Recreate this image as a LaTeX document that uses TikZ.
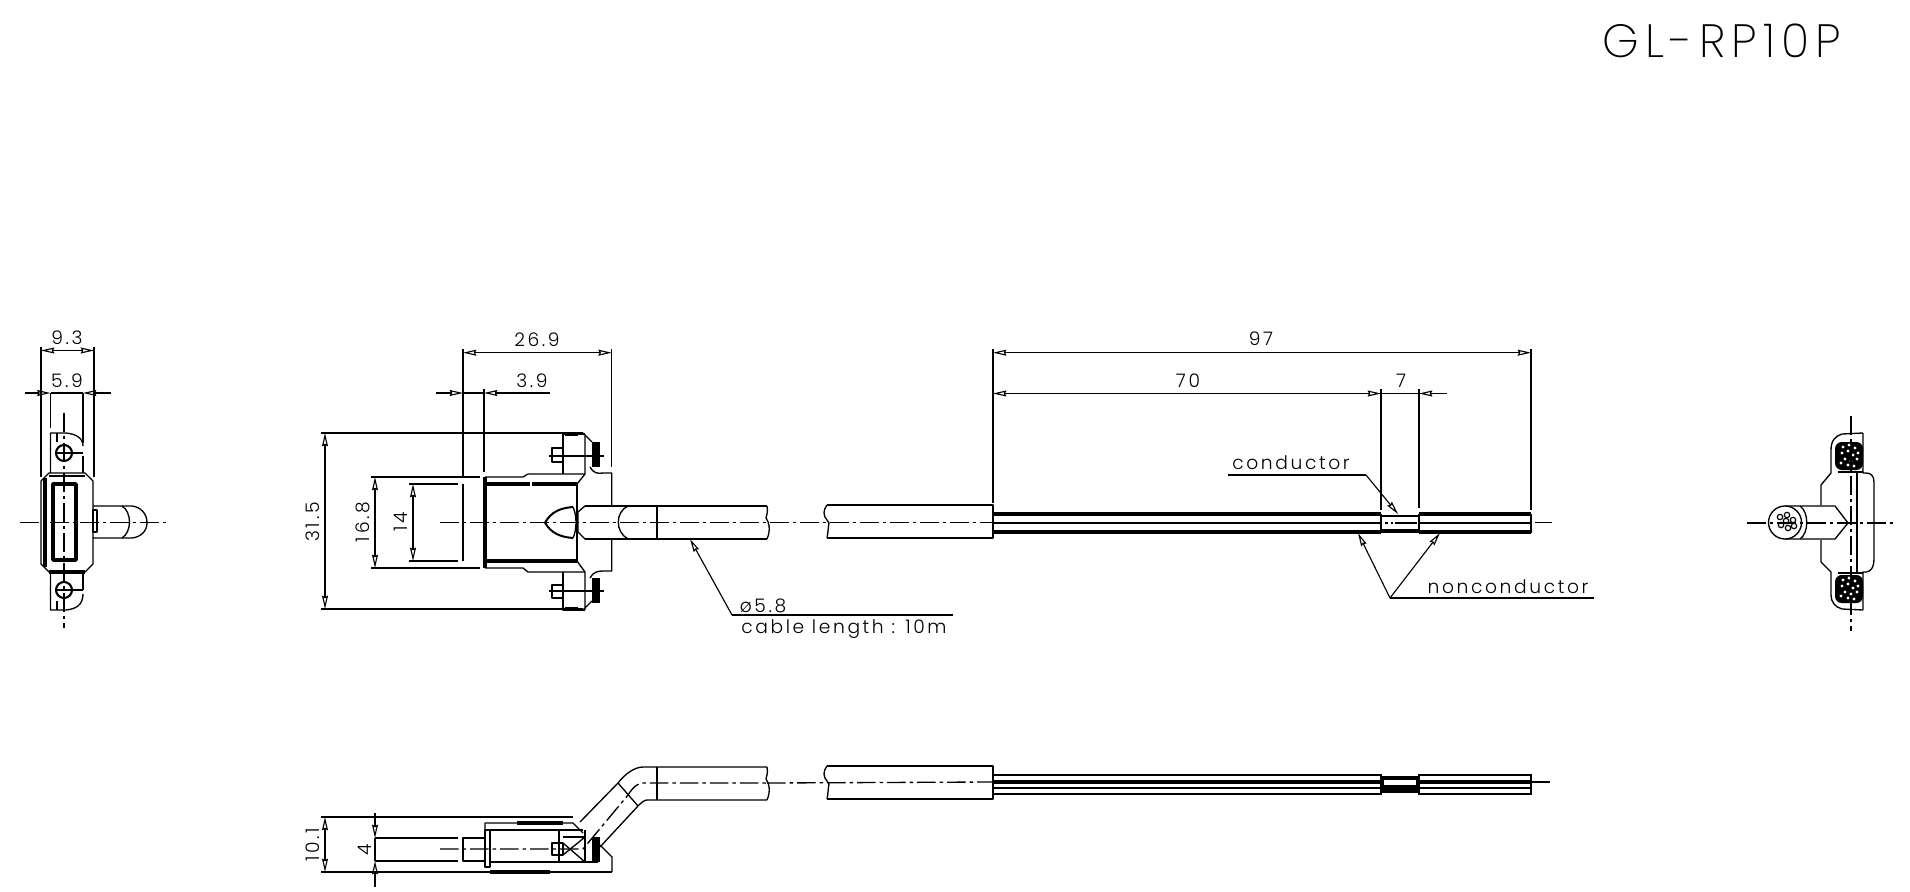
\documentclass[tikz,border=0pt]{standalone}
\usepackage{fontspec}
\usepackage{tikz}
\usetikzlibrary{arrows.meta}
\newfontfamily\cadfont[LetterSpace=14]{Poppins Light}
\newfontfamily\titlefont[LetterSpace=13]{Poppins ExtraLight}
\tikzset{
  >={Stealth[open,length=10pt,width=4.5pt,inset=1pt]},
  part/.style={line width=1pt,line join=round},
  fat/.style={line width=2.6pt},
  thin/.style={line width=0.9pt},
  centre/.style={line width=1pt,dash pattern=on 14pt off 3pt on 2.5pt off 3pt},
  dimline/.style={line width=0.85pt},
  dimarr/.style={dimline,<->},
  leadarr/.style={dimline,<-},
  label/.style={font=\cadfont\fontsize{14pt}{14pt}\selectfont,inner sep=0pt},
}
\begin{document}
\begin{tikzpicture}[x=0.75pt,y=-0.75pt]
\useasboundingbox (0,0) rectangle (1910,892);
\node [inner sep=0pt,font=\titlefont\fontsize{35pt}{35pt}\selectfont] (title) at (1722,41){GL-RP10P};
% left view
\draw [centre] (20,522.7) -- (169,522.7);
\draw [centre] (64,413) -- (64,628);
\coordinate (la) at (41,350.5);
\coordinate (lb) at (94,350.5);
\draw [dimarr] (la) -- (lb);
\draw [dimline] (41,347) -- (41,477);
\draw [dimline] (94,347) -- (94,477);
\coordinate (lc) at (50.5,393);
\coordinate (ld) at (83,393);
\draw [leadarr] (lc) -- (25,393);
\draw [leadarr] (ld) -- (111,393);
\draw [dimline] (lc) -- (ld);
\draw [dimline] (50.5,393) -- (50.5,428);
\draw [dimline] (83,393) -- (83,443);
\node [label] (w93) at (67,338){9.3};
\node [label] (w59) at (67,381){5.9};
\draw [part] (49,473) -- (85,473) -- (93,481) -- (93,564) -- (85,572) -- (49,572) -- (41,564) -- (41,481) -- cycle;
\draw [part,fat] (45,478) -- (45,567);
\draw [part,fat] (49,572) -- (85,572);
\draw [part,line width=1.6pt] (49,476) -- (85,476);
\draw [part,fat] (53,484) rectangle (76,560);
\draw [part] (50.5,473) -- (50.5,433) -- (66,433) .. controls (76,434) and (83,438) .. (83,446);
\draw [part] (50.5,572) -- (50.5,610) -- (66,610) .. controls (76,609) and (83,605) .. (83,594);
\draw [part] (57,433) -- (57,442);
\draw [part] (57,610) -- (57,601);
\draw [part] (72,453) -- (83,453);
\draw [part] (72,590) -- (83,590);
\draw [part] (83,456) -- (83,473);
\draw [part] (83,572) -- (83,590);
\draw [part,line width=1.6pt] (64,453) circle (8);
\draw [part,line width=1.6pt] (64,590) circle (8);
\draw [part] (56,453) -- (72,453);
\draw [part] (56,590) -- (72,590);
\draw [part] (93,506) -- (132,506) .. controls (141,507) and (147,514) .. (147,522.7) .. controls (147,531) and (141,537) .. (132,538) -- (93,538);
\draw [part] (122,506) .. controls (132,512) and (132,532) .. (122,538);
\draw [part] (93,510) rectangle (97,532);
% front view, dimensions
\coordinate (fa) at (463,352.7);
\coordinate (fb) at (611.7,352.7);
\draw [dimarr] (fa) -- (fb);
\draw [dimline] (463,349) -- (463,478);
\draw [dimline] (611.7,349) -- (611.7,467);
\coordinate (fc) at (463,393);
\coordinate (fd) at (484,393);
\draw [leadarr] (fc) -- (436,393);
\draw [leadarr] (fd) -- (550,393);
\draw [dimline] (fc) -- (fd);
\draw [dimline] (484,389) -- (484,472);
\node [label] (l269) at (537,340){26.9};
\node [label] (l39) at (532,381){3.9};
\coordinate (fe) at (325,433);
\coordinate (ff) at (325,609);
\draw [dimarr] (fe) -- (ff);
\draw [dimline] (321,433) -- (583,433);
\draw [dimline] (321,609) -- (583,609);
\coordinate (fg) at (375,477);
\coordinate (fh) at (375,568);
\draw [dimarr] (fg) -- (fh);
\draw [dimline] (371,477) -- (480,477);
\draw [dimline] (371,568) -- (480,568);
\coordinate (fi) at (413,484);
\coordinate (fj) at (413,561);
\draw [dimarr] (fi) -- (fj);
\draw [dimline] (409,484) -- (458,484);
\draw [dimline] (409,561) -- (458,561);
\node [label,rotate=90] (l315) at (313,522){31.5};
\node [label,rotate=90] (l168) at (363,522){16.8};
\node [label,rotate=90] (l14) at (401,522){14};
% front view, connector
\draw [part] (463,484) -- (463,561);
\draw [part,fat] (485,477) -- (485,568);
\draw [part,fat] (485,484) -- (530,484) (532,484) -- (577,484);
\draw [part,fat] (485,561) -- (577,561);
\draw [part] (577,484) -- (577,561);
\draw [part] (485,477) -- (523,477) -- (528,474) -- (585,474);
\draw [part] (485,568) -- (523,568) -- (528,572) -- (585,572);
\draw [part] (577,484) -- (585,474) -- (585,434) (583,433) -- (592,442);
\draw [part] (577,561) -- (585,572) -- (585,610) (583,610) -- (592,601);
\draw [part] (563,474) -- (563,434) -- (585,434);
\draw [part,fat] (565,434) -- (578,434);
\draw [part] (563,572) -- (563,610) -- (585,610);
\draw [part,fat] (565,609) -- (578,609);
\draw [part] (552,448) rectangle (563,462);
\draw [part] (552,585) rectangle (563,598);
\draw [part] (549,456) -- (604,456);
\draw [part] (549,591) -- (604,591);
\fill (592,442) rectangle (600,467);
\fill (592,578) rectangle (600,603);
\draw [part] (590,467) .. controls (593,473) and (598,474) .. (603,473) -- (611.7,473) -- (611.7,505);
\draw [part] (590,578) .. controls (593,572) and (598,571) .. (603,571) -- (611.7,571) -- (611.7,538);
\draw [part,line width=1.5pt] (545,522.7) .. controls (551,512) and (560,508) .. (573,507);
\draw [part,line width=1.5pt] (545,522.7) .. controls (551,533) and (560,537) .. (573,538);
\draw [part] (573,507) .. controls (577,515) and (577,530) .. (573,538);
\draw [part] (590,506) -- (585,506) -- (578,512) -- (578,532) -- (585,539) -- (590,539);
\draw [part] (585,506) -- (767,506) (585,539) -- (767,539);
\draw [part] (657,506) -- (657,539);
\draw [part] (628,506) .. controls (615,512) and (615,532) .. (628,539);
\draw [part] (767,506) .. controls (768,512) and (767,514) .. (766,518) .. controls (769,522) and (771,530) .. (767,539);
\draw [part] (827,505) -- (993,505) -- (993,538) -- (827,538);
\draw [part] (827,505) .. controls (823,510) and (823,516) .. (827,520) -- (829,523) .. controls (828,528) and (828,534) .. (827,538);
\draw [centre] (440,522.7) -- (993,522.7);
\draw [centre] (1535,522.7) -- (1552,522.7);
\coordinate (ga) at (690,539);
\coordinate (gb) at (732,615);
\coordinate (gc) at (953,615);
\draw [leadarr] (ga) -- (gb);
\draw [dimline] (gb) -- (gc);
\node [label] (dia) at (763,606){ø5.8};
\node [label,anchor=west] (cable) at (741,629){cable length : 10m};
% wires, front view
\draw [dimline] (993,349) -- (993,503);
\draw [dimline] (1381,389) -- (1381,510);
\draw [dimline] (1419,389) -- (1419,508);
\draw [dimline] (1531,349) -- (1531,510);
\coordinate (wa) at (993,352.7);
\coordinate (wb) at (1531,352.7);
\draw [dimarr] (wa) -- (wb);
\coordinate (wc) at (993,393.5);
\coordinate (wd) at (1381,393.5);
\coordinate (we) at (1419,393.5);
\draw [dimarr] (wc) -- (wd);
\draw [leadarr] (we) -- (1447,393.5);
\draw [dimline] (wd) -- (we);
\node [label] (l97) at (1261,339){97};
\node [label] (l70) at (1188,381){70};
\node [label] (l7) at (1401,381){7};
\draw [part,fat] (993,514) -- (1381,514);
\draw [part,fat] (993,532) -- (1381,532);
\draw [part,fat] (1419,514) -- (1531,514);
\draw [part,fat] (1419,532) -- (1531,532);
\draw [part] (993,523) -- (1381,523);
\draw [part] (1419,523) -- (1531,523);
\draw [part] (1531,514) -- (1531,533);
\draw [part,line width=1.5pt] (1381,514) -- (1381,533);
\draw [part,line width=1.5pt] (1419,514) -- (1419,533);
\draw [part,line width=1.5pt] (1381,516) -- (1419,516);
\draw [part,fat] (1381,531) -- (1419,531);
\draw [part,line width=1.5pt] (1395,523) -- (1417,523);
\draw [part,line width=1.5pt] (1385,523) -- (1388,523) (1391,523) -- (1393,523);
\coordinate (ca) at (1398,514);
\coordinate (cb) at (1366,475);
\coordinate (cc) at (1228,475);
\draw [leadarr] (ca) -- (cb);
\draw [dimline] (cb) -- (cc);
\node [label] (cond) at (1291,463){conductor};
\coordinate (na) at (1358,533);
\coordinate (nb) at (1440,533);
\coordinate (nc) at (1390,598);
\coordinate (nd) at (1594,598);
\draw [leadarr] (na) -- (nc);
\draw [leadarr] (nb) -- (nc);
\draw [dimline] (nc) -- (nd);
\node [label] (noncond) at (1508,587){nonconductor};
% bottom view
\coordinate (ba) at (325,817);
\coordinate (bb) at (325,872);
\draw [dimarr] (ba) -- (bb);
\draw [dimline] (321,817) -- (573,817);
\draw [dimline] (321,872) -- (612,872);
\coordinate (bc) at (375,838);
\coordinate (bd) at (375,861);
\draw [leadarr] (bc) -- (375,813);
\draw [leadarr] (bd) -- (375,887);
\draw [dimline] (bc) -- (bd);
\draw [dimline] (375,838) -- (458,838);
\draw [dimline] (375,861) -- (458,861);
\node [label,rotate=90] (l101) at (313,845){10.1};
\node [label,rotate=90] (l4) at (365,850){4};
\draw [centre] (440,849) -- (583,849) -- (628,795) .. controls (633,787) and (638,783) .. (643,783) -- (767,783);
\draw [part] (463,838) rectangle (485,861);
\draw [part] (485,830) rectangle (490,867);
\draw [part] (485,830) -- (485,823) -- (573,823) -- (583,833);
\draw [part] (490,830) -- (583,830);
\draw [part,fat] (517,823) -- (563,823);
\draw [part,fat] (490,872) -- (550,872);
\draw [part] (612,872) -- (612,857) -- (600,845);
\draw [part] (490,862) -- (598,862);
\draw [part] (559,830) -- (559,862);
\draw [part] (585,830) -- (585,862);
\draw [part] (563,837) -- (585,837);
\draw [part] (552,843) rectangle (563,855);
\draw [part] (563,855) -- (585,837) (563,843) -- (585,862);
\fill (592,837) rectangle (600,862);
\draw [part] (580,822) -- (618,783) .. controls (624,775) and (634,767) .. (643,767) -- (767,767);
\draw [part] (600,847) -- (638,806) .. controls (641,803) and (644,800) .. (647,800) -- (767,800);
\draw [part] (618,783) -- (638,806);
\draw [part] (657,767) -- (657,800);
\draw [part] (767,767) .. controls (768,773) and (767,775) .. (766,779) .. controls (769,783) and (771,791) .. (767,800);
\draw [centre] (767,783) -- (993,782);
\draw [part] (827,766) -- (993,766) -- (993,799) -- (827,799);
\draw [part] (827,766) .. controls (823,771) and (823,777) .. (827,781) -- (829,784) .. controls (828,789) and (828,795) .. (827,799);
% wires, bottom view
\draw [part] (993,775) -- (1381,775);
\draw [part,fat] (993,782) -- (1381,782);
\draw [part] (993,788) -- (1381,788);
\draw [part] (993,794) -- (1381,794);
\draw [part] (1419,775) -- (1531,775);
\draw [part,fat] (1419,782) -- (1531,782);
\draw [part] (1419,788) -- (1531,788);
\draw [part] (1419,794) -- (1531,794);
\draw [part] (1381,774) -- (1381,795);
\draw [part] (1419,774) -- (1419,795);
\draw [part] (1531,774) -- (1531,795);
\fill (1381,776) rectangle (1419,793);
\fill [white] (1384,780) rectangle (1416,785);
\draw [dimline] (1531,782) -- (1550,782);
% right view
\draw [part] (1863,433) -- (1842,434) .. controls (1835,436) and (1831,441) .. (1831,450) -- (1831,473) -- (1821,485) -- (1821,505);
\draw [part] (1863,610) -- (1842,609) .. controls (1835,607) and (1831,602) .. (1831,595) -- (1831,572) -- (1821,562) -- (1821,540);
\draw [part] (1863,433) -- (1863,473) -- (1866,473) .. controls (1871,473) and (1874,476) .. (1874,482) -- (1874,558) .. controls (1874,567) and (1871,572) .. (1866,572) -- (1863,572) -- (1863,610);
\draw [part] (1838,472) -- (1863,472) (1838,573) -- (1863,573);
\draw [part] (1857,473) -- (1857,572);
\fill [rounded corners=5pt] (1835,442) rectangle (1863,470);
\fill [rounded corners=5pt] (1835,575) rectangle (1863,603);
\foreach \gx/\gy in {1843/447,1849/445,1855/448,1858/453,1842/453,1848/451,1853/455,1845/459,1851/461,1857/459,1841/463,1848/465,1854/466}{
  \fill [white] (\gx,\gy) circle (1.6);
  \fill [white] (\gx,\gy+133) circle (1.6);
}
\draw [part] (1785,506) -- (1835,506) -- (1848,523) -- (1835,539) -- (1785,539);
\draw [part,fill=white] (1785,522.5) circle (16.5);
\draw [part] (1800,506) .. controls (1809,512) and (1809,533) .. (1800,539);
\foreach \gx/\gy in {1780/517,1787/515,1793/520,1781/525,1788/528,1794/526,1786/521}{
  \draw [thin] (\gx,\gy) circle (2.7);
}
\draw [centre] (1747,523) -- (1893,523);
\draw [centre] (1851,416) -- (1851,631);
\end{tikzpicture}
\end{document}
